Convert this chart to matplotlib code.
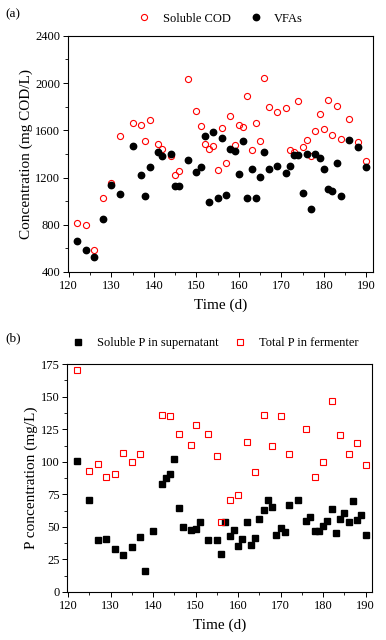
import matplotlib.pyplot as plt
from matplotlib.ticker import MultipleLocator

# Panel (a) data
days_cod = [122, 124, 126, 128, 130, 132, 135, 137, 138, 139, 141, 142, 144, 145, 146,
            148, 150, 151, 152, 153, 154, 155, 156, 157, 158, 159, 160, 161, 162, 163,
            164, 165, 166, 167, 169, 171, 172, 173, 174, 175, 176, 177, 178, 179, 180,
            181, 182, 183, 184, 186, 188, 190]
soluble_cod = [815, 800, 584, 1030, 1151, 1550, 1665, 1649, 1510, 1688, 1488, 1440, 1383,
               1220, 1259, 2033, 1767, 1634, 1480, 1440, 1468, 1262, 1620, 1322, 1720,
               1475, 1646, 1626, 1894, 1431, 1660, 1510, 2047, 1795, 1756, 1787, 1431,
               1417, 1852, 1456, 1521, 1383, 1595, 1736, 1615, 1857, 1561, 1807, 1524,
               1699, 1500, 1338]
vfas = [665, 586, 527, 846, 1140, 1064, 1463, 1220, 1041, 1290, 1420, 1383, 1403, 1132,
        1132, 1346, 1250, 1290, 1552, 990, 1586, 1025, 1538, 1055, 1440, 1428, 1230,
        1513, 1025, 1270, 1030, 1205, 1420, 1270, 1301, 1236, 1295, 1389, 1389, 1072,
        1403, 934, 1400, 1363, 1270, 1106, 1090, 1326, 1041, 1519, 1460, 1290]

# Panel (b) data
days_tp = [122, 125, 127, 129, 131, 133, 135, 137, 142, 144, 146, 149, 150, 153, 155,
           156, 158, 160, 162, 164, 166, 168, 170, 172, 176, 178, 180, 182, 184, 186,
           188, 190]
total_p = [170.6, 93.1, 98, 88, 91, 107, 99.7, 106, 136, 134.8, 121, 113, 128, 121.5,
           104.3, 53.7, 70.6, 74.4, 115.4, 92.3, 136.3, 112.5, 134.8, 106, 125, 88.4,
           100, 147, 120.7, 106, 114.3, 97.5]
days_sp = [122, 125, 127, 129, 131, 133, 135, 137, 138, 140, 142, 143, 144, 145, 146,
           147, 149, 150, 151, 153, 155, 156, 157, 158, 159, 160, 161, 162, 163, 164,
           165, 166, 167, 168, 169, 170, 171, 172, 174, 176, 177, 178, 179, 180, 181,
           182, 183, 184, 185, 186, 187, 188, 189, 190]
soluble_p = [100.5, 71, 39.7, 41, 33.3, 28.7, 34.3, 42.2, 16.1, 47, 82.9, 87.2, 91, 102,
             64.2, 50, 48, 48.6, 53.7, 40.2, 40, 29.4, 54, 43.2, 47.6, 35, 41, 53.7,
             35.8, 41.2, 55.8, 63.2, 70.9, 65, 44, 49, 46, 66.5, 70.6, 54.5, 57.8, 46.8,
             46.8, 51, 54.2, 64, 45, 56, 61, 53.7, 70, 55, 58.8, 44]

plt.rcParams['font.family'] = ['Liberation Serif', 'DejaVu Serif']
plt.rcParams['font.size'] = 9

fig = plt.figure(figsize=(3.86, 6.4), dpi=100)


def style_axes(ax):
    ax.tick_params(which='both', direction='out', labelsize=9, pad=2)
    ax.tick_params(which='major', length=3.5, width=0.7)
    ax.tick_params(which='minor', length=2, width=0.6)
    for s in ax.spines.values():
        s.set_linewidth(0.8)
    ax.xaxis.set_major_locator(MultipleLocator(10))
    ax.xaxis.set_minor_locator(MultipleLocator(5))
    ax.set_xlim(119.8, 191.5)
    ax.set_xlabel('Time (d)', fontsize=11, labelpad=5)


# Panel (a)
ax1 = fig.add_axes([0.176, 0.575, 0.790, 0.369])
ax1.plot(days_cod, soluble_cod, 'o', ls='none', ms=4.4, mfc='none', mec='red',
         mew=0.8, label='Soluble COD')
ax1.plot(days_cod, vfas, 'o', ls='none', ms=4.6, color='black', label='VFAs')
ax1.set_ylim(400, 2400)
ax1.yaxis.set_major_locator(MultipleLocator(400))
ax1.yaxis.set_minor_locator(MultipleLocator(200))
ax1.set_ylabel('Concentration (mg COD/L)', fontsize=11, labelpad=2)
style_axes(ax1)
ax1.legend(loc='lower center', bbox_to_anchor=(0.5, 1.0), ncol=2, frameon=False,
           fontsize=9, handlelength=1.0, handletextpad=1.0, columnspacing=1.5,
           borderaxespad=0.5)
fig.text(0.013, 0.978, '(a)', fontsize=9.5, va='center')

# Panel (b)
ax2 = fig.add_axes([0.174, 0.075, 0.790, 0.356])
ax2.plot(days_sp, soluble_p, 's', ls='none', ms=4.0, color='black',
         label='Soluble P in supernatant')
ax2.plot(days_tp, total_p, 's', ls='none', ms=3.8, mfc='none', mec='red',
         mew=0.8, label='Total P in fermenter')
ax2.set_ylim(0, 175)
ax2.yaxis.set_major_locator(MultipleLocator(25))
ax2.yaxis.set_minor_locator(MultipleLocator(12.5))
ax2.set_ylabel('P concentration (mg/L)', fontsize=11, labelpad=2)
style_axes(ax2)
ax2.legend(loc='lower center', bbox_to_anchor=(0.485, 1.0), ncol=2, frameon=False,
           fontsize=9, handlelength=1.0, handletextpad=1.0, columnspacing=1.2,
           borderaxespad=0.8)
fig.text(0.013, 0.472, '(b)', fontsize=9.5, va='center')

plt.savefig('out.png', dpi=100)
